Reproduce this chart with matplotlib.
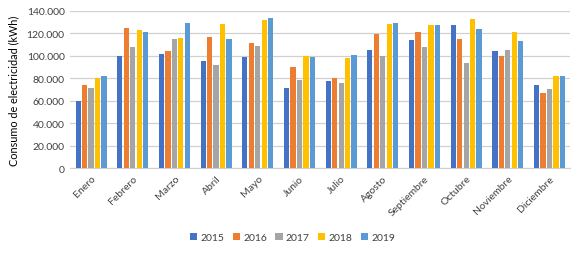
import matplotlib.pyplot as plt
import numpy as np
from matplotlib.ticker import FuncFormatter

plt.rcParams['font.family'] = ['Lato', 'DejaVu Sans']

months = ['Enero', 'Febrero', 'Marzo', 'Abril', 'Mayo', 'Junio', 'Julio',
          'Agosto', 'Septiembre', 'Octubre', 'Noviembre', 'Diciembre']
years = ['2015', '2016', '2017', '2018', '2019']
v2015 = [59600, 99800, 101900, 95300, 98600, 71200, 77700, 105400, 114100, 127800, 104600, 74200]
v2016 = [74200, 124800, 104600, 117100, 111700, 90000, 80400, 119100, 121200, 115000, 100100, 67000]
v2017 = [71200, 107800, 115000, 92000, 109000, 78900, 76000, 99500, 107800, 93800, 105400, 70300]
v2018 = [80400, 123300, 116200, 128700, 132300, 100000, 98300, 128700, 127500, 132600, 121200, 82200]
v2019 = [82200, 121500, 129600, 114700, 134000, 99200, 100700, 129300, 127500, 123900, 113200, 81900]
colors = ['#4472C4', '#ED7D31', '#A5A5A5', '#FFC000', '#5B9BD5']

series = [v2015, v2016, v2017, v2018, v2019]

fig = plt.figure(figsize=(5.85, 2.55), dpi=100)
ax = fig.add_axes([0.12, 0.337, 0.855, 0.616])

x = np.arange(len(months))
step, w = 0.155, 0.125
for i, (vals, c, yr) in enumerate(zip(series, colors, years)):
    ax.bar(x + (i - 2) * step, vals, width=w, color=c, label=yr, zorder=3)

ax.set_xlim(-0.5, len(months) - 0.5)
ax.set_ylim(0, 140000)
ax.set_yticks(np.arange(0, 140001, 20000))
ax.yaxis.set_major_formatter(FuncFormatter(lambda v, p: f'{int(v):,}'.replace(',', '.')))
ax.grid(axis='y', color='#D0D0D0', linewidth=0.9, zorder=0)
for s in ['top', 'right', 'left']:
    ax.spines[s].set_visible(False)
ax.spines['bottom'].set_color('#D0D0D0')
ax.tick_params(axis='both', length=0, labelsize=7.5, colors='#404040', pad=4)
ax.set_xticks(x)
ax.set_xticklabels(months, rotation=45, ha='right', rotation_mode='anchor')
ax.set_ylabel('Consumo de electricidad (kWh)', fontsize=7.8, color='#000000', labelpad=5)

fig.legend(loc='center', bbox_to_anchor=(0.5, 0.065), ncol=5, frameon=False,
           fontsize=7.5, handlelength=0.7, handleheight=0.7, handletextpad=0.3,
           columnspacing=0.8, labelcolor='#404040')

fig.savefig('out.png', dpi=100)
